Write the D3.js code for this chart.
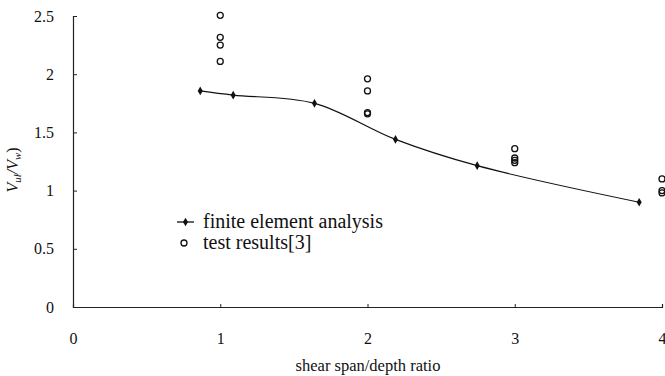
<!DOCTYPE html>
<html><head><meta charset="utf-8">
<script src="https://cdn.jsdelivr.net/npm/d3@7"></script>
<style>body{margin:0;background:#fff}svg{display:block}</style>
</head><body><svg id="c" width="665" height="376"></svg>
<script>
const feX = [0.864, 1.088, 1.64, 2.19, 2.745, 3.845];
const feY = [1.856, 1.82, 1.75, 1.44, 1.214, 0.90];
const testX = [1, 1, 1, 1, 2, 2, 2, 2, 3, 3, 3, 3, 4, 4, 4];
const testY = [2.506, 2.317, 2.25, 2.11, 1.96, 1.856, 1.67, 1.66, 1.36, 1.28, 1.26, 1.24, 1.10, 1.00, 0.98];
const xTicks = [0, 1, 2, 3, 4];
const yTicks = [0, 0.5, 1, 1.5, 2, 2.5];
const xTitle = "shear span/depth ratio";
const legendLabels = ["finite element analysis", "test results[3]"];

const FONT = "'Liberation Serif', 'Times New Roman', 'DejaVu Serif', serif";
const svg = d3.select("#c");
const x = d3.scaleLinear().domain([0, 4]).range([73, 662]);
const y = d3.scaleLinear().domain([0, 2.5]).range([307, 16]);

const yAxis = d3.axisLeft(y).tickValues(yTicks).tickSize(-4).tickPadding(19).tickFormat(d3.format("~g"));
const gy = svg.append("g").attr("transform", "translate(73,0)").call(yAxis);
const xAxis = d3.axisBottom(x).tickValues(xTicks).tickSize(-3).tickPadding(26).tickFormat(d3.format("~g"));
const gx = svg.append("g").attr("transform", "translate(0,307)").call(xAxis);
[gx, gy].forEach(g => {
  g.attr("font-family", null).attr("font-size", null);
  g.select(".domain").attr("stroke", "#222").attr("stroke-width", 1.2);
  g.selectAll(".tick line").attr("stroke", "#222");
  g.selectAll(".tick text").style("font-family", FONT).style("font-size", "16px").attr("fill", "#111");
});

// FE smooth line
const line = d3.line().x((d, i) => x(feX[i])).y((d, i) => y(feY[i])).curve(d3.curveCatmullRom.alpha(0.5));
svg.append("path").datum(feX).attr("d", line).attr("fill", "none").attr("stroke", "#111").attr("stroke-width", 1.2);
const diamond = d3.symbol().type(d3.symbolDiamond).size(22);
svg.selectAll(".fe").data(feX).enter().append("path")
  .attr("d", diamond).attr("transform", (d, i) => `translate(${x(d)},${y(feY[i])})`).attr("fill", "#111");

// test circles
svg.selectAll(".tr").data(testX).enter().append("circle")
  .attr("cx", d => x(d)).attr("cy", (d, i) => y(testY[i])).attr("r", 3)
  .attr("fill", "none").attr("stroke", "#111").attr("stroke-width", 1.3);

// y title
const yt = svg.append("text").attr("transform", "translate(18,170) rotate(-90)")
  .attr("text-anchor", "middle").style("font-family", FONT).style("font-size", "16px").attr("font-style", "italic").attr("fill", "#111");
yt.append("tspan").text("V");
yt.append("tspan").text("ul").style("font-size", "11px").attr("dy", 3);
yt.append("tspan").text("/V").attr("dy", -3);
yt.append("tspan").text("w").style("font-size", "11px").attr("dy", 3);
yt.append("tspan").text(")").attr("dy", -3).attr("font-style", "normal");

// x title
svg.append("text").attr("x", 368).attr("y", 371).attr("text-anchor", "middle")
  .style("font-family", FONT).style("font-size", "16.5px").attr("fill", "#111").text(xTitle);

// legend
const lg = svg.append("g");
lg.append("line").attr("x1", 177).attr("x2", 194).attr("y1", 222).attr("y2", 222).attr("stroke", "#111").attr("stroke-width", 1.3);
lg.append("path").attr("d", diamond).attr("transform", "translate(185.5,222)").attr("fill", "#111");
lg.append("circle").attr("cx", 184).attr("cy", 243).attr("r", 3).attr("fill", "none").attr("stroke", "#111").attr("stroke-width", 1.3);
lg.selectAll(".lt").data(legendLabels).enter().append("text")
  .attr("x", 203).attr("y", (d, i) => 228 + i * 21)
  .style("font-family", FONT).style("font-size", "20px").attr("fill", "#111").text(d => d);
</script></body></html>
